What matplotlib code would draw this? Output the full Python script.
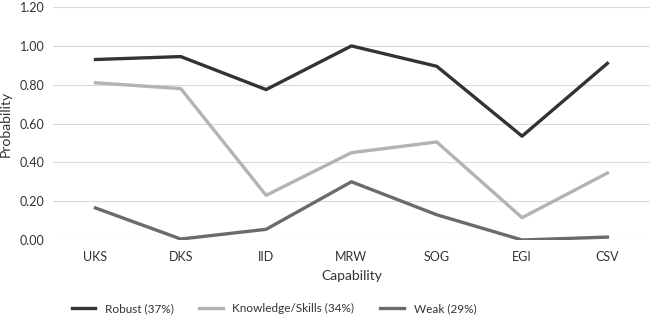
import matplotlib
matplotlib.use("Agg")
from matplotlib import pyplot as plt
import numpy as np

capabilities = ["UKS", "DKS", "IID", "MRW", "SOG", "EGI", "CSV"]
robust = [0.93, 0.945, 0.775, 1.00, 0.895, 0.535, 0.91]
knowledge = [0.81, 0.78, 0.23, 0.45, 0.505, 0.115, 0.345]
weak = [0.165, 0.005, 0.055, 0.30, 0.13, 0.0, 0.015]
y_ticks = [0.0, 0.2, 0.4, 0.6, 0.8, 1.0, 1.2]

plt.rcParams['font.family'] = ['Lato', 'DejaVu Sans']

def main():
    fig = plt.figure(figsize=(6.52, 3.23), dpi=100)
    ax = fig.add_axes([0.081, 0.257, 0.916, 0.721])
    x = np.arange(len(capabilities))

    ax.plot(x, robust, color="#333333", lw=2.4, label="Robust (37%)")
    ax.plot(x, knowledge, color="#b3b3b3", lw=2.4, label="Knowledge/Skills (34%)")
    ax.plot(x, weak, color="#6b6b6b", lw=2.4, label="Weak (29%)")

    ax.set_xlim(-0.5, len(capabilities) - 0.5)
    ax.set_ylim(0, 1.2)
    ax.set_yticks(y_ticks)
    ax.set_yticklabels([f"{v:.2f}" for v in y_ticks])
    ax.set_xticks(x)
    ax.set_xticklabels(capabilities)
    ax.tick_params(length=0, labelsize=9, colors="#333333", pad=8)
    ax.tick_params(axis="y", pad=6)
    ax.grid(axis="y", color="#d9d9d9", lw=0.8)
    ax.set_axisbelow(True)
    for s in ax.spines.values():
        s.set_visible(False)

    ax.set_xlabel("Capability", fontsize=10, color="#333333", labelpad=5)
    ax.set_ylabel("Probability", fontsize=10, color="#333333", labelpad=6)

    fig.legend(loc="lower center", bbox_to_anchor=(0.42, -0.005), ncol=3, frameon=False,
               fontsize=8.5, handlelength=2.0, handletextpad=0.8, columnspacing=2.2,
               labelcolor="#333333")

    fig.savefig("out.png", dpi=100)

if __name__ == '__main__':
    main()
